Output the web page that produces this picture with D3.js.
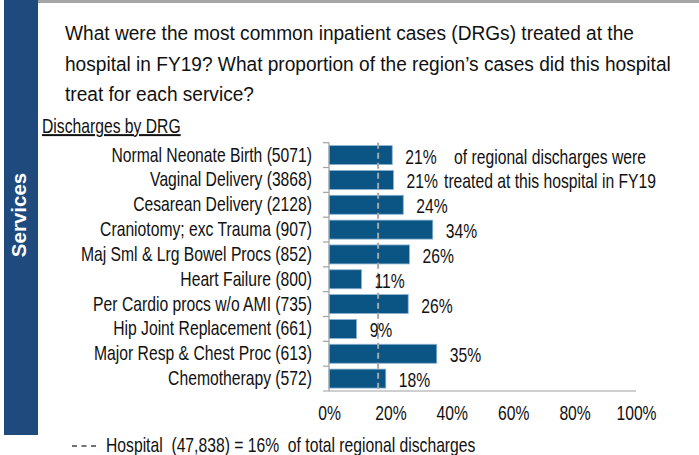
<!DOCTYPE html>
<html>
<head>
<meta charset="utf-8">
<script src="https://cdn.jsdelivr.net/npm/d3@7"></script>
<style>
  html, body { margin: 0; padding: 0; background: #fff; }
  svg { display: block; }
  text { font-family: "Liberation Sans", Arial, sans-serif; }
</style>
</head>
<body>
<svg id="chart" width="699" height="455"></svg>
<script>
const categories = [
  "Normal Neonate Birth (5071)",
  "Vaginal Delivery (3868)",
  "Cesarean Delivery (2128)",
  "Craniotomy; exc Trauma (907)",
  "Maj Sml & Lrg Bowel Procs (852)",
  "Heart Failure (800)",
  "Per Cardio procs w/o AMI (735)",
  "Hip Joint Replacement (661)",
  "Major Resp & Chest Proc (613)",
  "Chemotherapy (572)"
];
const shareValues = [20.6, 21.0, 24.2, 33.8, 26.2, 10.6, 25.8, 9.0, 35.1, 18.5];
const shareLabels = ["21%", "21%", "24%", "34%", "26%", "11%", "26%", "9%", "35%", "18%"];
const xTicks = [0, 20, 40, 60, 80, 100];
const hospitalShare = 16;
const titleLines = [
  "What were the most common inpatient cases (DRGs) treated at the",
  "hospital in FY19? What proportion of the region\u2019s cases did this hospital",
  "treat for each service?"
];
const noteLines = ["of regional discharges were", "treated at this hospital in FY19"];
const legendText = "Hospital  (47,838) = 16%  of total regional discharges";

const FS = 20;         // label font size
const SX = 0.785;      // condensed (Arial Narrow-like) look
const SX_TITLE = 0.91;

// convert x/y placement into a transform with horizontal squeeze
function squeeze(sel, sx) {
  sel.each(function () {
    const t = d3.select(this);
    const px = +t.attr("x") || 0, py = +t.attr("y") || 0;
    t.attr("x", 0).attr("y", 0).attr("transform", `translate(${px},${py}) scale(${sx},1)`);
  });
}

const svg = d3.select("#chart");

// frame: top grey rule and left blue band
svg.append("rect").attr("x", 38).attr("y", 0).attr("width", 661).attr("height", 3).attr("fill", "#a6a6a6");
svg.append("rect").attr("x", 4).attr("y", 0).attr("width", 34).attr("height", 435).attr("fill", "#1f4a7e");
svg.append("text")
  .attr("transform", "translate(25.5,215) rotate(-90)")
  .attr("text-anchor", "middle")
  .attr("fill", "#fff")
  .attr("font-weight", "bold")
  .attr("font-size", 20.5)
  .text("Services");

// title
svg.append("g")
  .selectAll("text").data(titleLines).join("text")
  .attr("x", 65).attr("y", (d, i) => 40 + i * 30.5)
  .attr("font-size", 21).attr("fill", "#111")
  .text(d => d)
  .call(squeeze, SX_TITLE);

svg.append("text")
  .attr("x", 42).attr("y", 133)
  .attr("font-size", FS).attr("fill", "#111")
  .attr("text-decoration", "underline")
  .text("Discharges by DRG")
  .call(squeeze, SX);

// scales
const x = d3.scaleLinear().domain([0, 100]).range([329, 636]);
const y = d3.scaleBand().domain(categories).range([142.7, 391]).paddingInner(0.235).paddingOuter(0.1175);
const gap = (y.step() - y.bandwidth()) / 2;

// bars
svg.append("g").selectAll("rect").data(categories).join("rect")
  .attr("x", x(0))
  .attr("y", d => y(d))
  .attr("width", (d, i) => x(shareValues[i]) - x(0))
  .attr("height", y.bandwidth())
  .attr("fill", "#0b5585")
  .attr("stroke", "#8db3d3")
  .attr("stroke-width", 0.8);

// y axis (labels) via d3 axis
const yAxis = svg.append("g")
  .attr("transform", `translate(${x(0)},0)`)
  .call(d3.axisLeft(y).tickSize(0).tickPadding(17));
yAxis.select(".domain").remove();
yAxis.attr("font-family", null);
yAxis.selectAll("text")
  .attr("font-size", FS).attr("fill", "#111")
  .attr("x", -17 / SX)
  .attr("transform", `scale(${SX},1)`);

// y axis line and boundary ticks
svg.append("line").attr("x1", x(0)).attr("x2", x(0)).attr("y1", y.range()[0]).attr("y2", y.range()[1])
  .attr("stroke", "#a0a0a0").attr("stroke-width", 1.2);
svg.append("g").selectAll("line").data(categories).join("line")
  .attr("x1", x(0) - 6).attr("x2", x(0))
  .attr("y1", d => y(d) - gap).attr("y2", d => y(d) - gap)
  .attr("stroke", "#a0a0a0").attr("stroke-width", 1.2);

// x axis
const xAxis = svg.append("g")
  .attr("transform", `translate(0,${y.range()[1]})`)
  .call(d3.axisBottom(x).tickValues(xTicks).tickSize(0).tickPadding(14.5).tickFormat(d => d + "%"));
xAxis.select(".domain").remove();
xAxis.attr("font-family", null);
xAxis.selectAll("text")
  .attr("font-size", FS).attr("fill", "#111")
  .attr("transform", `scale(${SX},1)`);
svg.append("line").attr("x1", x(0) - 6).attr("x2", x(100)).attr("y1", y.range()[1]).attr("y2", y.range()[1])
  .attr("stroke", "#a0a0a0").attr("stroke-width", 1.2);

// hospital average dashed line
svg.append("line")
  .attr("x1", x(hospitalShare)).attr("x2", x(hospitalShare))
  .attr("y1", y.range()[0]).attr("y2", y.range()[1])
  .attr("stroke", "#a6a6a6").attr("stroke-width", 2).attr("stroke-dasharray", "6,4");

// value labels
svg.append("g").selectAll("text").data(categories).join("text")
  .attr("x", (d, i) => x(shareValues[i]) + 13)
  .attr("y", d => y(d) + y.bandwidth() / 2 + 1.5)
  .attr("dy", "0.35em")
  .attr("font-size", FS).attr("fill", "#111")
  .text((d, i) => shareLabels[i])
  .call(squeeze, SX);

// note
svg.append("g").selectAll("text").data(noteLines).join("text")
  .attr("x", 550).attr("y", (d, i) => y(categories[i]) + y.bandwidth() / 2 + 1.5)
  .attr("dy", "0.35em")
  .attr("text-anchor", "middle")
  .attr("font-size", FS).attr("fill", "#111")
  .text(d => d)
  .call(squeeze, SX);

// legend
svg.append("line").attr("x1", 72).attr("x2", 96).attr("y1", 446).attr("y2", 446)
  .attr("stroke", "#444").attr("stroke-width", 1.5).attr("stroke-dasharray", "5,4.5");
svg.append("text")
  .attr("x", 106).attr("y", 452)
  .attr("font-size", FS).attr("fill", "#111")
  .style("white-space", "pre")
  .text(legendText)
  .call(squeeze, SX);
</script>
</body>
</html>
